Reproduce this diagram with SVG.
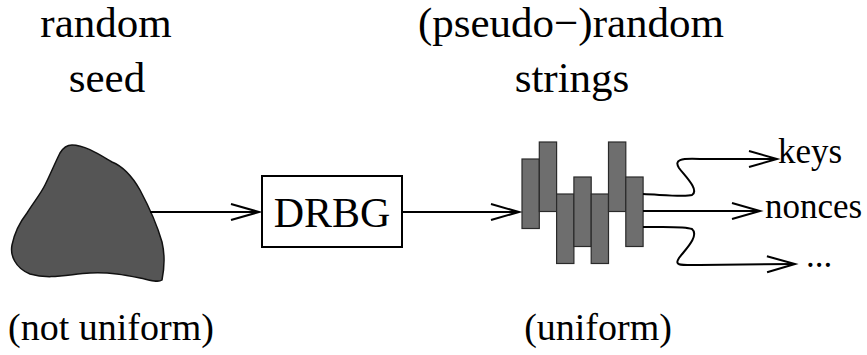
<svg xmlns="http://www.w3.org/2000/svg" width="867" height="355" viewBox="0 0 867 355" font-family="Liberation Serif, Tinos, Times New Roman, DejaVu Serif, serif">
<style>
.big { font-size: 43px; }
.lab { font-size: 35px; }
.sub { font-size: 38px; }
.line { fill: none; stroke: #000; stroke-width: 2; }
.bar { fill: #6e6e6e; stroke: #2a2a2a; stroke-width: 1.2; }
</style>
<defs>
<marker id="arr" markerUnits="userSpaceOnUse" markerWidth="40" markerHeight="24" viewBox="-30 -12 32 24" refX="0" refY="0" orient="auto" overflow="visible">
<path d="M-28,-8 L0,0 L-28,8" fill="none" stroke="#000" stroke-width="2"/>
</marker>
</defs>
<rect width="867" height="355" fill="#fff"/>

<g id="labels" font-family="Liberation Serif, serif">
<text class="big" x="106" y="37" text-anchor="middle" font-family="Liberation Serif, serif">random</text>
<text class="big" x="107" y="92" text-anchor="middle" font-family="Liberation Serif, serif">seed</text>
<text class="big" x="571" y="37" text-anchor="middle" font-family="Liberation Serif, serif">(pseudo−)random</text>
<text class="big" x="572" y="92" text-anchor="middle" font-family="Liberation Serif, serif">strings</text>
<text class="sub" x="111" y="340" text-anchor="middle" font-family="Liberation Serif, serif">(not uniform)</text>
<text class="sub" x="598" y="340" text-anchor="middle" font-family="Liberation Serif, serif">(uniform)</text>
</g>

<g id="seed">
<path d="M72,145 C85,145 100,155 112,162 C122,166 132,176 140,190 C148,205 158,228 162,242 C165,255 164,270 162,280 C158,283 150,280 140,278 C125,275 110,272 90,273 C70,274 50,280 30,274 C15,268 10,255 12,245 C14,235 20,222 27,213 C33,203 40,195 45,185 C50,175 55,163 60,153 C63,148 67,145 72,145 Z" fill="#555555" stroke="#111" stroke-width="1.5"/>
</g>

<g id="drbg">
<rect x="262" y="176" width="140" height="71" fill="#fff" stroke="#000" stroke-width="2"/>
<text x="332" y="227" text-anchor="middle" font-size="42" font-family="Liberation Serif, serif">DRBG</text>
</g>

<g id="strings">
<rect class="bar" x="522" y="159" width="17.3" height="69.5"/>
<rect class="bar" x="539.3" y="142" width="17.3" height="69.5"/>
<rect class="bar" x="556.6" y="194" width="17.3" height="69.5"/>
<rect class="bar" x="573.9" y="177" width="17.3" height="69.5"/>
<rect class="bar" x="591.2" y="194" width="17.3" height="69.5"/>
<rect class="bar" x="608.5" y="142" width="17.3" height="69.5"/>
<rect class="bar" x="625.8" y="177" width="17.3" height="69.5"/>
</g>

<g id="outputs">
<text class="lab" x="778" y="163" font-family="Liberation Serif, serif">keys</text>
<text class="lab" x="765" y="218" font-family="Liberation Serif, serif">nonces</text>
<text class="lab" x="806" y="267" font-family="Liberation Serif, serif">...</text>
</g>

<g id="connectors">
<path class="line" d="M150,212 L259,212" marker-end="url(#arr)"/>
<path class="line" d="M402,212 L519,212" marker-end="url(#arr)"/>
<path class="line" d="M643,211 L760,211" marker-end="url(#arr)"/>
<path class="line" d="M643,194 C665,195 685,197 692,195 C700,190 684,175 679,168 C674,160 680,158 700,159 L777,159" marker-end="url(#arr)"/>
<path class="line" d="M643,227 C665,227 685,226 692,229 C700,236 684,251 679,258 C674,266 680,265 700,265 L795,264" marker-end="url(#arr)"/>
</g>
</svg>
